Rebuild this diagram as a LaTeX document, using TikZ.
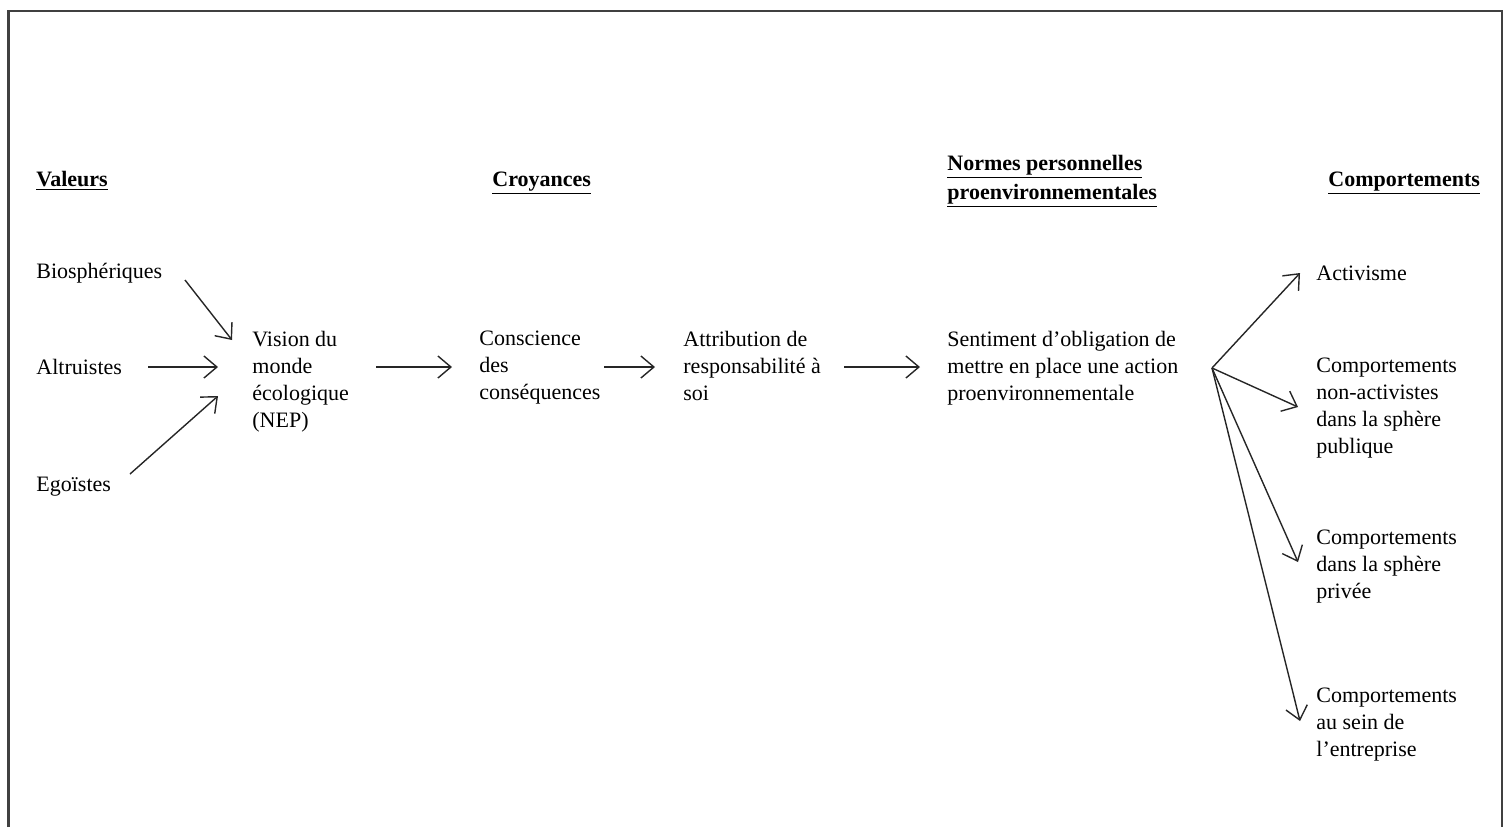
\documentclass[tikz,border=0pt]{standalone}
\usepackage{fontspec}
\setmainfont{Liberation Serif}
\usetikzlibrary{arrows.meta,calc}
\begin{document}
\begin{tikzpicture}[x=0.5pt,y=-0.5pt,
  txt/.style={anchor=west,inner sep=0pt,align=left,font=\fontsize{11}{13.5}\selectfont},
  head/.style={anchor=base west,inner sep=0pt,align=left,font=\fontsize{11}{14.5}\selectfont\bfseries},
  arr/.style={-{Straight Barb[length=6.5pt,width=11pt]},line width=0.7pt,black!85},
  frame/.style={line width=1.3pt,black!75}]
\useasboundingbox (0,0) rectangle (1508,827);
\draw[frame] (8.5,827) -- (8.5,11) -- (1502,11) -- (1502,827);
% headers
\node[head] (hval)  at (36,186)   {\underline{Valeurs}};
\node[head] (hcro)  at (492,186)  {\underline{Croyances}};
\node[head] (hnorm) at (947,199)  {\underline{Normes personnelles}\\\underline{proenvironnementales}};
\node[head] (hcomp) at (1328,186) {\underline{Comportements}};
% values
\node[txt] (bio) at (36,273) {Biosphériques};
\node[txt] (alt) at (36,367) {Altruistes};
\node[txt] (ego) at (36,487) {Egoïstes};
% chain
\node[txt] (vis)  at (252,382) {Vision du\\monde\\écologique\\(NEP)};
\node[txt] (cons) at (479,368) {Conscience\\des\\conséquences};
\node[txt] (attr) at (683,366) {Attribution de\\responsabilité à\\soi};
\node[txt] (sent) at (947,368) {Sentiment d’obligation de\\mettre en place une action\\proenvironnementale};
% behaviours
\node[txt] (act)  at (1316,273) {Activisme};
\node[txt] (pub)  at (1316,408) {Comportements\\non-activistes\\dans la sphère\\publique};
\node[txt] (priv) at (1316,567) {Comportements\\dans la sphère\\privée};
\node[txt] (ent)  at (1316,725) {Comportements\\au sein de\\l’entreprise};
% arrows
\draw[arr] ($(bio.west)+(149,7)$) -- ($(vis.west)+(-20,-42)$);
\draw[arr] ($(alt.west)+(112,0)$) -- ($(vis.west)+(-34,-15)$);
\draw[arr] ($(ego.west)+(94,-13)$) -- ($(vis.west)+(-34,14)$);
\draw[arr] ($(vis.west)+(124,-15)$) -- ($(cons.west)+(-27,-1)$);
\draw[arr] ($(cons.west)+(125,-1)$) -- ($(attr.west)+(-28,1)$);
\draw[arr] ($(attr.west)+(161,1)$) -- ($(sent.west)+(-27,-1)$);
\coordinate (fan) at ($(sent.west)+(265,0)$);
\draw[arr] (fan) -- ($(act.west)+(-16,0)$);
\draw[arr] (fan) -- ($(pub.west)+(-18,-1)$);
\draw[arr] (fan) -- ($(priv.west)+(-18,-5)$);
\draw[arr] (fan) -- ($(ent.west)+(-16,-4)$);
\end{tikzpicture}
\end{document}
